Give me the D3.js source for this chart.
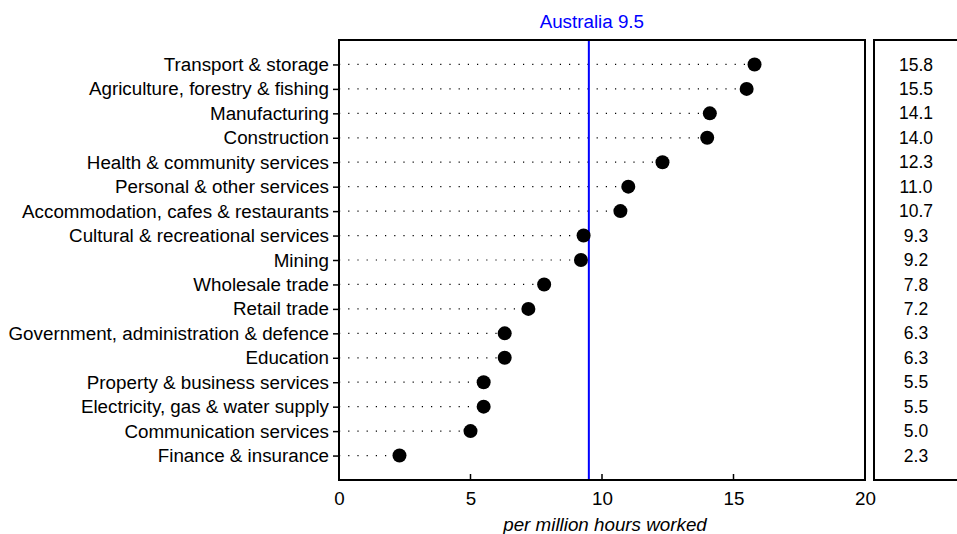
<!DOCTYPE html>
<html><head><meta charset="utf-8">
<script src="https://cdn.jsdelivr.net/npm/d3@7"></script>
<style>body{margin:0;background:#fff}svg{display:block;font-family:"Liberation Sans",Arial,sans-serif}</style>
</head><body><svg id="c" width="957" height="534"></svg>
<script>
const categories = ["Transport & storage","Agriculture, forestry & fishing","Manufacturing","Construction","Health & community services","Personal & other services","Accommodation, cafes & restaurants","Cultural & recreational services","Mining","Wholesale trade","Retail trade","Government, administration & defence","Education","Property & business services","Electricity, gas & water supply","Communication services","Finance & insurance"];
const values = [15.8,15.5,14.1,14.0,12.3,11.0,10.7,9.3,9.2,7.8,7.2,6.3,6.3,5.5,5.5,5.0,2.3];
const australia = 9.5;
const xTicks = [0,5,10,15,20];
const xLabel = "per million hours worked";

const FONT = "Liberation Sans, Arial, sans-serif";
const svg = d3.select("#c");
const L=339, R=865, T=40, B=480;
const x = d3.scaleLinear().domain([0,20]).range([L,R]);
const y = d3.scalePoint().domain(categories).range([T,B]).padding(1);

// dotted leaders
svg.append("g").selectAll("line").data(categories).join("line")
  .attr("x1",L).attr("x2",(d,i)=>x(values[i])).attr("y1",d=>y(d)).attr("y2",d=>y(d))
  .attr("stroke","#000").attr("stroke-width",1.2).attr("stroke-dasharray","1.2,8");

// y axis ticks + labels
const ya = d3.axisLeft(y).tickSize(6).tickPadding(4);
const gy = svg.append("g").attr("transform",`translate(${L},0)`).call(ya);
gy.attr("font-size",null).attr("font-family",null);
gy.select(".domain").remove();
gy.selectAll("line").attr("stroke","#000").attr("stroke-width",1.5);
gy.selectAll("text").style("font-size","18.8px").attr("fill","#000").style("font-family",FONT);

// x axis
const xa = d3.axisBottom(x).tickValues(xTicks).tickSize(0).tickPadding(12).tickFormat(d3.format("d"));
const gx = svg.append("g").attr("transform",`translate(0,${B})`).call(xa);
gx.attr("font-size",null).attr("font-family",null);
gx.select(".domain").remove();
gx.selectAll("text").style("font-size","18.8px").attr("fill","#000").style("font-family",FONT);
svg.append("g").selectAll("line").data(xTicks.slice(1,-1)).join("line")
  .attr("x1",d=>x(d)).attr("x2",d=>x(d)).attr("y1",B).attr("y2",B-6)
  .attr("stroke","#000").attr("stroke-width",1.5);

svg.append("text").attr("x",(L+R)/2+3).attr("y",531).attr("text-anchor","middle")
  .style("font-size","18.8px").attr("font-style","italic").text(xLabel);

// australia line
svg.append("line").attr("x1",x(australia)).attr("x2",x(australia)).attr("y1",T).attr("y2",B)
  .attr("stroke","#0000ff").attr("stroke-width",2);
svg.append("text").attr("x",x(australia)+3).attr("y",28).attr("text-anchor","middle")
  .style("font-size","18.8px").attr("fill","#0000ff").text("Australia " + australia.toFixed(1));

// dots
svg.append("g").selectAll("circle").data(categories).join("circle")
  .attr("cx",(d,i)=>x(values[i])).attr("cy",d=>y(d)).attr("r",7).attr("fill","#000");

// frame
svg.append("rect").attr("x",L).attr("y",T).attr("width",R-L).attr("height",B-T)
  .attr("fill","none").attr("stroke","#000").attr("stroke-width",2);

// right panel
svg.append("rect").attr("x",874).attr("y",T).attr("width",100).attr("height",B-T)
  .attr("fill","none").attr("stroke","#000").attr("stroke-width",2);
svg.append("g").selectAll("text").data(categories).join("text")
  .attr("x",916).attr("y",d=>y(d)).attr("dy","0.35em").attr("text-anchor","middle")
  .style("font-size","17.5px").text((d,i)=>values[i].toFixed(1));
</script></body></html>
